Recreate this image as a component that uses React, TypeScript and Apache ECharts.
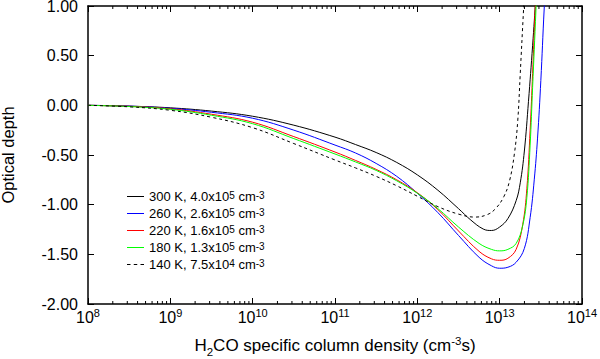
import React, { useEffect, useRef } from "react";
import * as echarts from "echarts";

// x values are log10 of the H2CO specific column density (cm^-3 s)
const xTickExponents = [8, 9, 10, 11, 12, 13, 14];
const yTickLabels = ["-2.00", "-1.50", "-1.00", "-0.50", "0.00", "0.50", "1.00"];

const seriesNames = [
  "300 K, 4.0x10{sup|5} cm{sup|-3}",
  "260 K, 2.6x10{sup|5} cm{sup|-3}",
  "220 K, 1.6x10{sup|5} cm{sup|-3}",
  "180 K, 1.3x10{sup|5} cm{sup|-3}",
  "140 K, 7.5x10{sup|4} cm{sup|-3}",
];
const seriesColors = ["#000000", "#0000ff", "#ff0000", "#00ff00", "#000000"];
const seriesDash: any[] = ["solid", "solid", "solid", "solid", [3, 3]];

const curve300K = [
  [8, 0], [8.5, -0.008], [9, -0.025], [9.5, -0.058], [10, -0.11], [10.5, -0.2], [11, -0.32],
  [11.25, -0.395], [11.5, -0.475], [11.75, -0.575], [12, -0.7], [12.25, -0.855], [12.5, -1.04],
  [12.65, -1.155], [12.8, -1.245], [12.9, -1.26], [13.0, -1.225], [13.1, -1.14], [13.2, -0.96],
  [13.25, -0.78], [13.3, -0.46], [13.35, 0.04], [13.4, 0.6], [13.44, 1.1], [13.46, 1.4],
];
const curve260K = [
  [8, 0], [8.5, -0.008], [9, -0.03], [9.5, -0.07], [10, -0.13], [10.5, -0.25], [11, -0.4],
  [11.25, -0.48], [11.5, -0.585], [11.75, -0.715], [12, -0.885], [12.25, -1.08], [12.5, -1.31],
  [12.75, -1.53], [12.9, -1.615], [13.0, -1.64], [13.1, -1.63], [13.2, -1.58], [13.3, -1.44],
  [13.37, -1.13], [13.42, -0.75], [13.46, -0.33], [13.5, 0.25], [13.54, 0.96], [13.57, 1.4],
];
const curve220K = [
  [8, 0], [8.5, -0.01], [9, -0.035], [9.5, -0.09], [10, -0.17], [10.5, -0.315], [11, -0.47],
  [11.25, -0.555], [11.5, -0.645], [11.75, -0.75], [12, -0.88], [12.25, -1.05], [12.5, -1.265],
  [12.75, -1.47], [12.9, -1.545], [13.0, -1.56], [13.1, -1.54], [13.2, -1.45], [13.28, -1.2],
  [13.33, -0.84], [13.37, -0.25], [13.4, 0.32], [13.43, 0.95], [13.45, 1.4],
];
const curve180K = [
  [8, 0], [8.5, -0.012], [9, -0.04], [9.5, -0.1], [10, -0.185], [10.5, -0.335], [11, -0.49],
  [11.25, -0.57], [11.5, -0.655], [11.75, -0.76], [12, -0.885], [12.25, -1.04], [12.5, -1.225],
  [12.75, -1.39], [12.9, -1.45], [13.0, -1.465], [13.1, -1.45], [13.2, -1.39], [13.28, -1.21],
  [13.33, -0.93], [13.37, -0.4], [13.4, 0.18], [13.44, 0.95], [13.46, 1.4],
];
const curve140K = [
  [8, 0], [8.5, -0.015], [9, -0.05], [9.5, -0.12], [10, -0.225], [10.5, -0.385], [11, -0.55],
  [11.25, -0.63], [11.5, -0.715], [11.75, -0.81], [12, -0.915], [12.25, -1.02], [12.5, -1.095],
  [12.7, -1.125], [12.85, -1.1], [12.95, -1.04], [13.05, -0.92], [13.12, -0.76], [13.18, -0.48],
  [13.22, -0.15], [13.25, 0.32], [13.29, 0.96], [13.32, 1.4],
];
const curves = [curve300K, curve260K, curve220K, curve180K, curve140K];

// minor tick exponents: log10(k * 10^d), k = 2..9
const minorTickExponents: number[] = [];
for (let d = 8; d < 14; d++) {
  for (let k = 2; k <= 9; k++) minorTickExponents.push(d + Math.log10(k));
}

const FONT = "'Liberation Sans', Arial, Helvetica, sans-serif";
const SOLID_ICON = "path://M0,0h17v1h-17z";
const DASH_ICON = "path://M0,0h3.5v1h-3.5z M6.75,0h3.5v1h-3.5z M13.5,0h3.5v1h-3.5z";

export default function App() {
  const ref = useRef<HTMLDivElement>(null);
  useEffect(() => {
    if (!ref.current) return;
    const chart = echarts.init(ref.current, null, { renderer: "svg" });
    const xMin = xTickExponents[0];
    const xMax = xTickExponents[xTickExponents.length - 1];
    const yMin = parseFloat(yTickLabels[0]);
    const yMax = parseFloat(yTickLabels[yTickLabels.length - 1]);
    const tickStyle = { show: true, inside: true, length: 6, lineStyle: { color: "#000", width: 1 } };
    const axisLineStyle = { show: true, onZero: false, lineStyle: { color: "#000", width: 1.5 } };
    const lineSeries = curves.map((c, i) => ({
      type: "line",
      name: seriesNames[i],
      data: c,
      xAxisIndex: 0,
      yAxisIndex: 0,
      showSymbol: false,
      symbol: "none",
      smooth: 0.4,
      clip: true,
      lineStyle: { color: seriesColors[i], width: 1, type: seriesDash[i] },
      itemStyle: { color: seriesColors[i] },
      z: 3,
    }));
    const option: any = {
      animation: false,
      backgroundColor: "#fff",
      textStyle: { fontFamily: FONT },
      grid: { left: 88, right: 18, top: 6, bottom: 55, containLabel: false, outerBoundsMode: "none" },
      legend: {
        orient: "vertical",
        left: 122,
        top: 185,
        itemWidth: 17,
        itemHeight: 1.5,
        itemGap: 4,
        data: seriesNames.map((n, i) => ({
          name: n,
          icon: i === 4 ? DASH_ICON : SOLID_ICON,
          itemStyle: { color: seriesColors[i], borderWidth: 0 },
        })),
        textStyle: {
          fontFamily: FONT,
          fontSize: 13,
          color: "#000",
          rich: {
            sup: { fontSize: 10, fontFamily: FONT, color: "#000", verticalAlign: "top", lineHeight: 10 },
          },
        },
      },
      xAxis: [
        {
          type: "value",
          min: xMin,
          max: xMax,
          interval: 1,
          position: "bottom",
          axisLine: axisLineStyle,
          axisTick: tickStyle,
          splitLine: { show: false },
          axisLabel: {
            margin: 3,
            formatter: (v: number) => `{b|10}{s|${v}}`,
            rich: {
              b: { fontSize: 16, fontFamily: FONT, color: "#000", verticalAlign: "bottom" },
              s: { fontSize: 11, fontFamily: FONT, color: "#000", verticalAlign: "bottom", padding: [0, 0, 7, 0] },
            },
          },
          name: "{n|H}{sub|2}{n|CO specific column density (cm}{sup|-3}{n|s)}",
          nameLocation: "middle",
          nameGap: 31,
          nameTextStyle: {
            rich: {
              n: { fontSize: 17, fontFamily: FONT, color: "#000", verticalAlign: "bottom" },
              sub: { fontSize: 11.5, fontFamily: FONT, color: "#000", verticalAlign: "bottom", padding: [0, 0, -4, 0] },
              sup: { fontSize: 11.5, fontFamily: FONT, color: "#000", verticalAlign: "bottom", padding: [0, 0, 7, 0] },
            },
          },
        },
        {
          type: "value",
          min: xMin,
          max: xMax,
          interval: 1,
          position: "top",
          axisLine: axisLineStyle,
          axisTick: tickStyle,
          axisLabel: { show: false },
          splitLine: { show: false },
        },
      ],
      yAxis: [
        {
          type: "value",
          min: yMin,
          max: yMax,
          interval: 0.5,
          position: "left",
          axisLine: axisLineStyle,
          axisTick: tickStyle,
          splitLine: { show: false },
          axisLabel: {
            margin: 10,
            fontSize: 16,
            lineHeight: 10,
            padding: [3, 0, 0, 0],
            fontFamily: FONT,
            color: "#000",
            formatter: (v: number) => v.toFixed(2),
          },
          name: "Optical depth",
          nameLocation: "middle",
          nameGap: 72,
          nameTextStyle: { fontSize: 16.5, fontFamily: FONT, color: "#000" },
        },
        {
          type: "value",
          min: yMin,
          max: yMax,
          interval: 0.5,
          position: "right",
          axisLine: axisLineStyle,
          axisTick: tickStyle,
          axisLabel: { show: false },
          splitLine: { show: false },
        },
      ],
      series: [
        ...lineSeries,
        {
          type: "custom",
          name: "minorTicks",
          xAxisIndex: 0,
          yAxisIndex: 0,
          silent: true,
          clip: false,
          data: minorTickExponents.map((x) => [x]),
          renderItem: (params: any, api: any) => {
            const x = api.value(0);
            const b = api.coord([x, yMin]);
            const t = api.coord([x, yMax]);
            const style = { stroke: "#000", lineWidth: 1 };
            return {
              type: "group",
              children: [
                { type: "line", shape: { x1: b[0], y1: b[1], x2: b[0], y2: b[1] - 3 }, style },
                { type: "line", shape: { x1: t[0], y1: t[1], x2: t[0], y2: t[1] + 3 }, style },
              ],
            };
          },
          z: 5,
        },
      ],
    };
    chart.setOption(option);
    return () => chart.dispose();
  }, []);
  return <div ref={ref} style={{ width: 600, height: 359, position: "absolute", left: 0, top: 0 }} />;
}
